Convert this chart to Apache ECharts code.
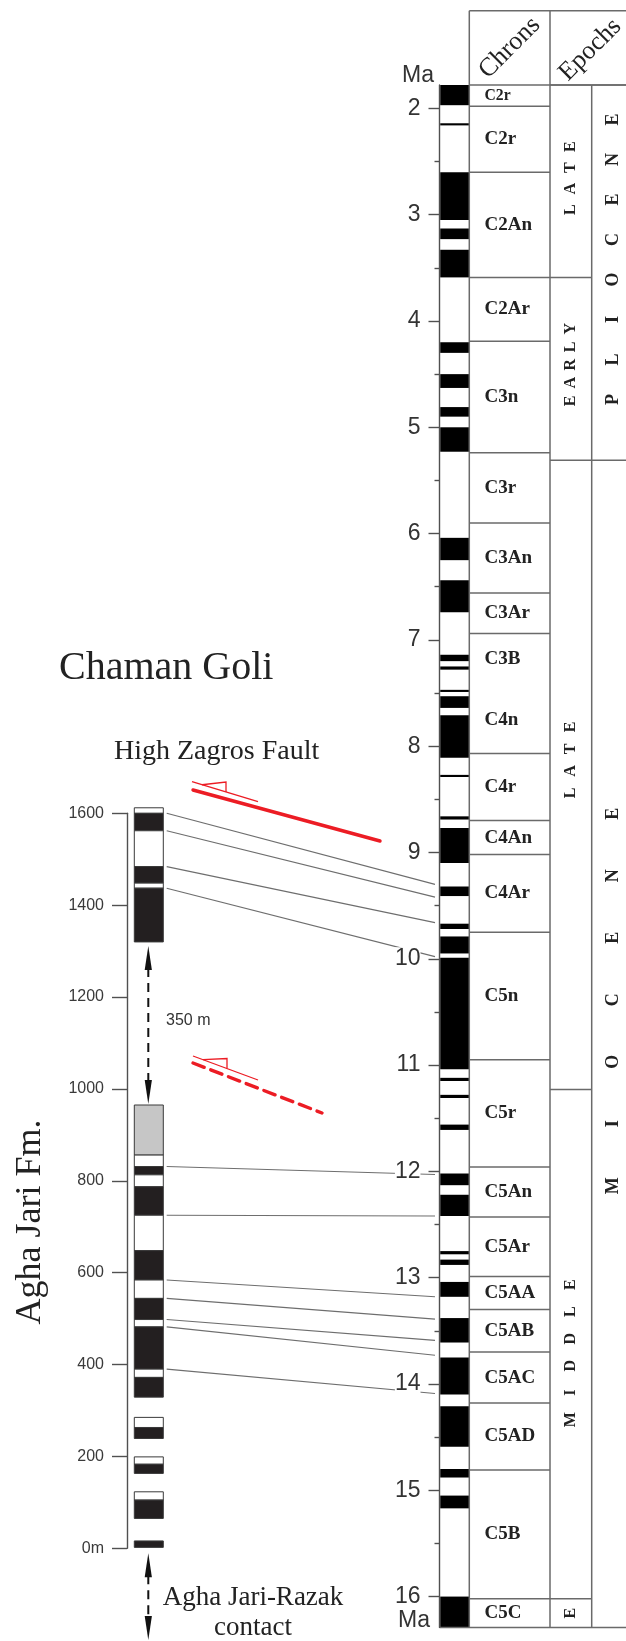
<!DOCTYPE html>
<html>
<head>
<meta charset="utf-8">
<script src="https://cdn.jsdelivr.net/npm/echarts@6/dist/echarts.min.js"></script>
<style>
  html, body { margin: 0; padding: 0; background: #fff; }
  #chart { width: 626px; height: 1641px; }
</style>
</head>
<body>
<div id="chart"></div>
<script>
// ---- Chaman Goli section (depth in metres) ----
const sectionTop      = [1612, 1600, 1562, 1484, 1448, 1437, 965, 856, 831, 813, 787, 725, 648, 584, 544, 498, 482, 390, 372, 285, 263, 199, 183, 123, 105, 16];
const sectionBase     = [1600, 1562, 1484, 1448, 1437, 1320, 856, 831, 813, 787, 725, 648, 584, 544, 498, 482, 390, 372, 329, 263, 239, 183, 163, 105, 65, 2];
// N = normal, R = reversed, U = undetermined
const sectionPolarity = ['R', 'N', 'R', 'N', 'R', 'N', 'U', 'R', 'N', 'R', 'N', 'R', 'N', 'R', 'N', 'R', 'N', 'R', 'N', 'R', 'N', 'R', 'N', 'R', 'N', 'N'];

// ---- Geomagnetic polarity time scale (Ma), normal intervals ----
const polarityTop  = [1.78, 2.14, 2.60, 3.13, 3.33, 4.20, 4.50, 4.81, 5.00, 6.04, 6.44, 7.14, 7.25, 7.47, 7.53, 7.71, 8.27, 8.66, 8.77, 9.32, 9.67, 9.79, 9.99, 11.12, 11.28, 11.56, 12.02, 12.22, 12.75, 12.83, 13.04, 13.38, 13.75, 14.21, 14.80, 15.05, 16.00];
const polarityBase = [1.97, 2.16, 3.05, 3.23, 3.59, 4.30, 4.63, 4.90, 5.23, 6.25, 6.74, 7.20, 7.28, 7.49, 7.64, 8.11, 8.29, 8.69, 9.10, 9.41, 9.72, 9.95, 11.04, 11.15, 11.31, 11.61, 12.13, 12.42, 12.78, 12.88, 13.18, 13.61, 14.10, 14.59, 14.88, 15.17, 16.29];

// ---- Chrons ----
const chronNames = ['C2r', 'C2r', 'C2An', 'C2Ar', 'C3n', 'C3r', 'C3An', 'C3Ar', 'C3B', 'C4n', 'C4r', 'C4An', 'C4Ar', 'C5n', 'C5r', 'C5An', 'C5Ar', 'C5AA', 'C5AB', 'C5AC', 'C5AD', 'C5B', 'C5C'];
const chronTop   = [1.78, 1.98, 2.60, 3.59, 4.19, 5.24, 5.90, 6.56, 6.94, 7.43, 8.07, 8.70, 9.02, 9.75, 10.95, 11.96, 12.43, 12.99, 13.30, 13.70, 14.18, 14.81, 16.02];
const chronBase  = [1.98, 2.60, 3.59, 4.19, 5.24, 5.90, 6.56, 6.94, 7.43, 8.07, 8.70, 9.02, 9.75, 10.95, 11.96, 12.43, 12.99, 13.30, 13.70, 14.18, 14.81, 16.02, 16.29];
const chronLines = [1.98, 2.60, 3.59, 4.19, 5.24, 5.90, 6.56, 6.94, 8.07, 8.70, 9.02, 9.75, 10.95, 11.96, 12.43, 12.99, 13.30, 13.70, 14.18, 14.81, 16.02];

// ---- Epochs and series ----
const epochNames  = ['LATE', 'EARLY', 'LATE', 'MIDDLE', 'E'];
const epochTop    = [1.78, 3.59, 5.31, 11.23, 16.02];
const epochBase   = [3.59, 5.31, 11.23, 16.02, 16.29];
const seriesNames = ['PLIOCENE', 'MIOCENE'];
const seriesTop   = [1.78, 5.31];
const seriesBase  = [5.31, 16.29];

// ---- Age axis ticks ----
const ageTicks     = [2, 3, 4, 5, 6, 7, 8, 9, 10, 11, 12, 13, 14, 15, 16];
const ageHalfTicks = [2.5, 3.5, 4.5, 5.5, 6.5, 7.5, 8.5, 9.5, 10.5, 11.5, 12.5, 13.5, 14.5, 15.5];

// ---- Correlation tie points (section depth -> age) ----
const tieDepth = [1600, 1562, 1484, 1437, 831, 725, 584, 544, 498, 482, 390];
const tieAge   = [9.30, 9.42, 9.66, 9.98, 12.03, 12.42, 13.18, 13.39, 13.59, 13.73, 14.09];

// ---- layout & style ----
const SERIF = '"Liberation Serif", "Times New Roman", serif';
const SANS = '"Liberation Sans", Arial, sans-serif';
const SEC_COL_X = 7.3, SEC_COL_W = 29;           // section column inside left grid
const POL_W = 29.8, CHRON_W = 80.7, EPOCH_W = 41.7; // right-hand table columns
const HEADER_TOP = 10.7;
const TABLE_LINE = { stroke: '#6a6a6a', lineWidth: 1.5 };
const SECTION_FILL = { N: '#231f20', R: '#ffffff', U: '#c6c6c6' };
const EPOCH_STEP = [21, 18, 22, 27, 0];
const EPOCH_SHIFT = [-3, -4, -15, 8, 0];
const SERIES_STEP = [40, 62];
const SERIES_SHIFT = [-13, -44];

function txt(x, y, text, font, extra) {
  return Object.assign({
    type: 'text', x: x, y: y,
    style: { text: text, font: font, fill: '#222', align: 'center', verticalAlign: 'middle', textAlign: 'center', textVerticalAlign: 'middle' }
  }, extra || {});
}

function yRange(api) {
  return [api.coord([0, api.value(1)])[1], api.coord([0, api.value(2)])[1]];
}

function renderSection(params, api) {
  const cs = params.coordSys;
  const [y0, y1] = yRange(api);
  return {
    type: 'rect',
    shape: { x: cs.x + SEC_COL_X, y: y0, width: SEC_COL_W, height: y1 - y0 },
    style: { fill: SECTION_FILL[sectionPolarity[params.dataIndex]], stroke: '#3a3a3a', lineWidth: 1 }
  };
}

function renderPolarity(params, api) {
  const cs = params.coordSys;
  const [y0, y1] = yRange(api);
  return {
    type: 'rect',
    shape: { x: cs.x + 0.7, y: y0, width: POL_W - 0.7, height: y1 - y0 },
    style: { fill: '#000' }
  };
}

function renderChronLabels(params, api) {
  const cs = params.coordSys;
  const [y0, y1] = yRange(api);
  const size = Math.min(19, (y1 - y0) * 0.74);
  const t = txt(cs.x + POL_W + 15.2, (y0 + y1) / 2, chronNames[params.dataIndex], 'bold ' + size.toFixed(1) + 'px ' + SERIF);
  t.style.align = 'left'; t.style.textAlign = 'left';
  return t;
}

function renderChronLines(params, api) {
  const cs = params.coordSys;
  const y = api.coord([0, api.value(1)])[1];
  return { type: 'line', shape: { x1: cs.x + POL_W, y1: y, x2: cs.x + POL_W + CHRON_W, y2: y }, style: TABLE_LINE };
}

function spacedLetters(word, cx, cy, step, font) {
  const n = word.length;
  return word.split('').map((ch, k) =>
    txt(cx, cy + ((n - 1) / 2 - k) * step, ch, font, { rotation: Math.PI / 2 }));
}

function renderEpochs(params, api) {
  const cs = params.coordSys, i = params.dataIndex;
  const [y0, y1] = yRange(api);
  const xL = cs.x + POL_W + CHRON_W, xR = xL + EPOCH_W;
  const children = [{ type: 'line', shape: { x1: xL, y1: y0, x2: xR, y2: y0 }, style: TABLE_LINE }];
  return {
    type: 'group',
    children: children.concat(spacedLetters(epochNames[i], (xL + xR) / 2, (y0 + y1) / 2 + EPOCH_SHIFT[i], EPOCH_STEP[i], 'bold 16px ' + SERIF))
  };
}

function renderSeries(params, api) {
  const cs = params.coordSys, i = params.dataIndex;
  const [y0, y1] = yRange(api);
  const xL = cs.x + POL_W + CHRON_W + EPOCH_W;
  const children = [{ type: 'line', shape: { x1: xL, y1: y0, x2: cs.x + cs.width + 10, y2: y0 }, style: TABLE_LINE }];
  return {
    type: 'group',
    children: children.concat(spacedLetters(seriesNames[i], xL + 21.3, (y0 + y1) / 2 + SERIES_SHIFT[i], SERIES_STEP[i], 'bold 18px ' + SERIF))
  };
}

function renderFrame(params, api) {
  const cs = params.coordSys;
  const [y0, y1] = yRange(api);
  const xC = cs.x + POL_W, xE = xC + CHRON_W, xS = xE + EPOCH_W, xEnd = cs.x + cs.width + 10;
  const L = (x1, ya, x2, yb) => ({ type: 'line', shape: { x1: x1, y1: ya, x2: x2, y2: yb }, style: TABLE_LINE });
  return {
    type: 'group',
    children: [
      L(xC, HEADER_TOP, xEnd, HEADER_TOP),
      L(xC, y0, xEnd, y0),
      L(cs.x, y1, xEnd, y1),
      L(xC, HEADER_TOP, xC, y1),
      L(xE, HEADER_TOP, xE, y1),
      L(xS, y0, xS, y1),
      txt(xC + CHRON_W / 2, (HEADER_TOP + y0) / 2, 'Chrons', '26px ' + SERIF, { rotation: Math.PI / 4 }),
      txt(xE + CHRON_W / 2, (HEADER_TOP + y0) / 2 + 2, 'Epochs', '26px ' + SERIF, { rotation: Math.PI / 4 })
    ]
  };
}

const chart = echarts.init(document.getElementById('chart'), null, { renderer: 'canvas', width: 626, height: 1641 });

const axisLineStyle = { color: '#505050', width: 1.4 };
const customBase = { type: 'custom', xAxisIndex: 1, yAxisIndex: 1, encode: { x: 0, y: [1, 2] }, silent: true };

chart.setOption({
  animation: false,
  backgroundColor: '#fff',
  grid: [
    { left: 127, top: 813.3, width: 40, height: 735, outerBoundsMode: 'none', containLabel: false },
    { left: 439.5, top: 85, width: 186.5, height: 1542.4, outerBoundsMode: 'none', containLabel: false }
  ],
  xAxis: [
    { gridIndex: 0, type: 'value', min: 0, max: 1, show: false },
    { gridIndex: 1, type: 'value', min: 0, max: 1, show: false }
  ],
  yAxis: [
    {
      gridIndex: 0, type: 'value', position: 'left', min: 0, max: 1600, interval: 200,
      axisLine: { show: true, lineStyle: axisLineStyle },
      axisTick: { show: true, length: 15, lineStyle: axisLineStyle },
      axisLabel: { margin: 23, color: '#3a3a3a', fontSize: 16, fontFamily: SANS, formatter: v => v === 0 ? '0m' : String(v) },
      splitLine: { show: false }
    },
    {
      gridIndex: 1, type: 'value', position: 'left', offset: 0, inverse: true, min: 1.78, max: 16.29, z: 10,
      axisLine: { show: true, lineStyle: axisLineStyle },
      axisTick: { show: true, length: 11, customValues: ageTicks, lineStyle: axisLineStyle },
      axisLabel: { customValues: ageTicks, margin: 19, color: '#333', fontSize: 23, fontFamily: SANS, backgroundColor: '#fff' },
      splitLine: { show: false }
    },
    {
      gridIndex: 1, type: 'value', position: 'left', offset: 0, inverse: true, min: 1.78, max: 16.29,
      axisLine: { show: false },
      axisTick: { show: true, length: 5, customValues: ageHalfTicks, lineStyle: axisLineStyle },
      axisLabel: { show: false },
      splitLine: { show: false }
    }
  ],
  series: [
    {
      type: 'custom', name: 'Chaman Goli section', xAxisIndex: 0, yAxisIndex: 0, encode: { x: 0, y: [1, 2] }, silent: true,
      renderItem: renderSection,
      data: sectionTop.map((t, i) => [0, t, sectionBase[i]])
    },
    Object.assign({ name: 'Polarity', renderItem: renderPolarity, data: polarityTop.map((t, i) => [0, t, polarityBase[i]]) }, customBase),
    Object.assign({ name: 'Chron lines', renderItem: renderChronLines, data: chronLines.map(a => [0, a, a]) }, customBase),
    Object.assign({ name: 'Chrons', renderItem: renderChronLabels, data: chronTop.map((t, i) => [0, t, chronBase[i]]) }, customBase),
    Object.assign({ name: 'Epochs', renderItem: renderEpochs, data: epochTop.map((t, i) => [0, t, epochBase[i]]) }, customBase),
    Object.assign({ name: 'Series', renderItem: renderSeries, data: seriesTop.map((t, i) => [0, t, seriesBase[i]]) }, customBase),
    Object.assign({ name: 'Frame', renderItem: renderFrame, data: [[0, seriesTop[0], seriesBase[seriesBase.length - 1]]] }, customBase)
  ]
});

// ---- annotations placed through the two depth / age axes ----
const yDepth = d => chart.convertToPixel({ yAxisIndex: 0 }, d);
const yAge = a => chart.convertToPixel({ yAxisIndex: 1 }, a);
const RED = '#ec1c24';
const els = [];

function gText(x, y, text, font, align, extra, fill) {
  return Object.assign({
    type: 'text', x: x, y: y, z: 5,
    style: { text: text, font: font, fill: fill || '#222', align: align, textAlign: align, verticalAlign: 'middle', textVerticalAlign: 'middle' }
  }, extra || {});
}

function dashedArrow(x, yTop, yBot) {
  const head = 24, hw = 3.6;
  els.push({ type: 'line', z: 2, shape: { x1: x, y1: yTop + head - 2, x2: x, y2: yBot - head + 2 }, style: { stroke: '#111', lineWidth: 2, lineDash: [9, 6] } });
  els.push({ type: 'polygon', z: 2, shape: { points: [[x, yTop], [x - hw, yTop + head], [x + hw, yTop + head]] }, style: { fill: '#111' } });
  els.push({ type: 'polygon', z: 2, shape: { points: [[x, yBot], [x - hw, yBot - head], [x + hw, yBot - head]] }, style: { fill: '#111' } });
}

// correlation lines
tieDepth.forEach((d, i) => {
  els.push({ type: 'line', z: 1, shape: { x1: 127 + 39.7, y1: yDepth(d), x2: 435, y2: yAge(tieAge[i]) }, style: { stroke: '#6e6e6e', lineWidth: 1.1 } });
});

// gap in the section and lower contact
dashedArrow(148.3, yDepth(sectionBase[5]) + 4, yDepth(sectionTop[6]) - 1);
dashedArrow(148.3, yDepth(0) + 5, 1640);

// faults
function fault(x1, y1, x2, y2, tx1, ty1, tx2, ty2, dashed) {
  els.push({ type: 'line', z: 3, shape: { x1: x1, y1: y1, x2: x2, y2: y2 }, style: { stroke: RED, lineWidth: 3.4, lineDash: dashed ? [12, 7] : null, lineCap: 'round' } });
  els.push({ type: 'line', z: 3, shape: { x1: tx1, y1: ty1, x2: tx2, y2: ty2 }, style: { stroke: RED, lineWidth: 1.3 } });
  const s = (ty2 - ty1) / (tx2 - tx1);
  const ax = tx1 + 10, bx = tx1 + 34;
  els.push({ type: 'polyline', z: 3, shape: { points: [[ax, ty1 + s * 10], [bx, ty1 + s * 34 - 10], [bx, ty1 + s * 34]] }, style: { stroke: RED, lineWidth: 1.3, fill: null } });
}
fault(193, 790, 380, 841, 192, 781.7, 258, 801.7, false);
fault(193, 1063, 322, 1113, 193, 1056, 258, 1080, true);

// texts
els.push(gText(59, 668, 'Chaman Goli', '40px ' + SERIF, 'left'));
els.push(gText(114, 752, 'High Zagros Fault', '28px ' + SERIF, 'left'));
els.push(gText(31, 1222, 'Agha Jari Fm.', '36px ' + SERIF, 'center', { rotation: Math.PI / 2 }));
els.push(gText(166, 1021, '350 m', '16px ' + SANS, 'left', null, '#333'));
els.push(gText(253, 1598, 'Agha Jari-Razak', '27px ' + SERIF, 'center'));
els.push(gText(253, 1628, 'contact', '27px ' + SERIF, 'center'));
els.push(gText(434, 76, 'Ma', '23px ' + SANS, 'right', null, '#333'));
els.push(gText(430, 1621, 'Ma', '23px ' + SANS, 'right', null, '#333'));

chart.setOption({ graphic: { elements: els } });
</script>
</body>
</html>
